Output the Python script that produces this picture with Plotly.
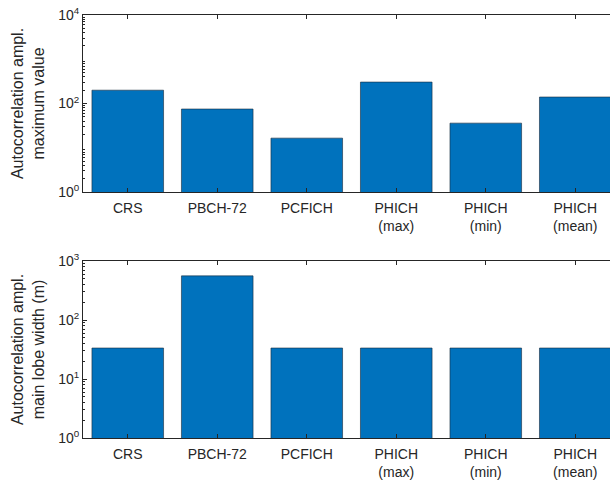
import plotly.graph_objects as go

categories = ["CRS", "PBCH-72", "PCFICH", "PHICH<br>(max)", "PHICH<br>(min)", "PHICH<br>(mean)"]
max_value = [200, 75, 16.5, 305, 36, 140]
lobe_width = [33.5, 560, 33.5, 33.5, 33.5, 33.5]
top_ticks = [1, 100, 10000]
top_ticktext = ["10<sup>0</sup>", "10<sup>2</sup>", "10<sup>4</sup>"]
bot_ticks = [1, 10, 100, 1000]
bot_ticktext = ["10<sup>0</sup>", "10<sup>1</sup>", "10<sup>2</sup>", "10<sup>3</sup>"]

xpos = list(range(1, len(categories) + 1))
BLUE = "#0072BD"
INK = "#262626"
FONT = "Liberation Sans, Arial, sans-serif"

fig = go.Figure()
fig.add_trace(go.Bar(x=xpos, y=max_value, width=0.8, marker=dict(color=BLUE, line=dict(color="#1a2a3a", width=0.6)),
                     xaxis="x", yaxis="y", showlegend=False))
fig.add_trace(go.Bar(x=xpos, y=lobe_width, width=0.8, marker=dict(color=BLUE, line=dict(color="#1a2a3a", width=0.6)),
                     xaxis="x2", yaxis="y2", showlegend=False))

def minor_vals(decades):
    return [m * 10 ** d for d in range(decades) for m in range(2, 10)]

xcommon = dict(range=[0.5, 6.388], tickvals=xpos, ticktext=categories, ticks="inside", ticklen=4,
               tickcolor=INK, showline=True, linecolor=INK, linewidth=1, mirror="allticks",
               showgrid=False, zeroline=False, automargin=False, ticklabelstandoff=3,
               ticklabeloverflow="allow",
               tickfont=dict(size=14, color=INK, family=FONT))
ycommon = dict(type="log", ticks="inside", ticklen=4, tickcolor=INK, showline=True, linecolor=INK,
               linewidth=1, mirror=False, showgrid=False, zeroline=False, automargin=False,
               ticklabeloverflow="allow",
               tickfont=dict(size=14, color=INK, family=FONT),
               title=dict(font=dict(size=16, color=INK, family=FONT), standoff=9))

W, H = 610, 483
L = 83
fig.update_layout(
    width=W, height=H,
    margin=dict(l=0, r=0, t=0, b=0),
    paper_bgcolor="white", plot_bgcolor="white",
    bargap=0.2,
    xaxis=dict(xcommon, domain=[L / W, 1], anchor="y"),
    yaxis=dict(ycommon, domain=[1 - 192 / H, 1 - 15 / H], anchor="x", range=[0, 4],
               tickvals=top_ticks, ticktext=top_ticktext,
               minor=dict(ticks="inside", ticklen=2, tickcolor=INK, tickvals=minor_vals(4)),
               title=dict(ycommon["title"], text="Autocorrelation ampl.<br>maximum value")),
    xaxis2=dict(xcommon, domain=[L / W, 1], anchor="y2"),
    yaxis2=dict(ycommon, domain=[1 - 438 / H, 1 - 261 / H], anchor="x2", range=[0, 3],
                tickvals=bot_ticks, ticktext=bot_ticktext,
                minor=dict(ticks="inside", ticklen=2, tickcolor=INK, tickvals=minor_vals(3)),
                title=dict(ycommon["title"], text="Autocorrelation ampl.<br>main lobe width (m)")),
    font=dict(family=FONT, color=INK),
)

fig.write_html("out.html", config={"displayModeBar": False},
               post_script="document.body.style.margin='0';document.body.style.overflow='hidden';")
